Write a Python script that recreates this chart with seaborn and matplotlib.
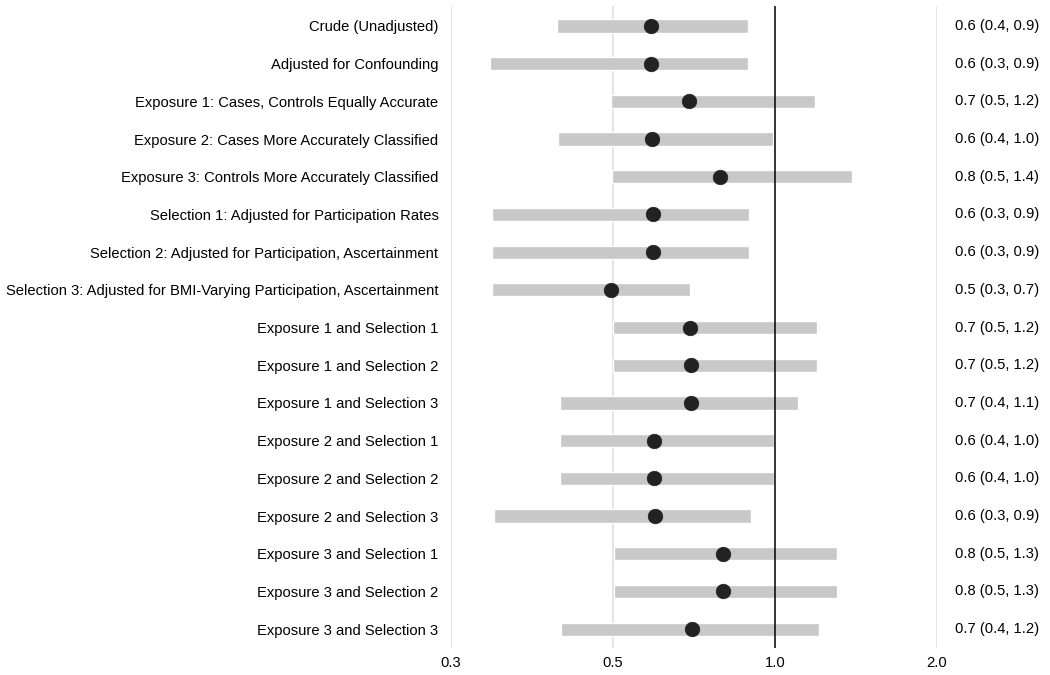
import numpy as np
import pandas as pd
import matplotlib
matplotlib.use("Agg")
import matplotlib.pyplot as plt
import matplotlib.transforms as mtransforms
import seaborn as sns

# ---- data (odds ratios with 95% intervals) ----
labels = [
    "Crude (Unadjusted)",
    "Adjusted for Confounding",
    "Exposure 1: Cases, Controls Equally Accurate",
    "Exposure 2: Cases More Accurately Classified",
    "Exposure 3: Controls More Accurately Classified",
    "Selection 1: Adjusted for Participation Rates",
    "Selection 2: Adjusted for Participation, Ascertainment",
    "Selection 3: Adjusted for BMI-Varying Participation, Ascertainment",
    "Exposure 1 and Selection 1",
    "Exposure 1 and Selection 2",
    "Exposure 1 and Selection 3",
    "Exposure 2 and Selection 1",
    "Exposure 2 and Selection 2",
    "Exposure 2 and Selection 3",
    "Exposure 3 and Selection 1",
    "Exposure 3 and Selection 2",
    "Exposure 3 and Selection 3",
]
est = [0.588, 0.588, 0.692, 0.591, 0.790, 0.593, 0.593, 0.496, 0.695,
       0.698, 0.698, 0.596, 0.596, 0.598, 0.800, 0.800, 0.700]
lower = [0.393, 0.295, 0.496, 0.395, 0.498, 0.298, 0.298, 0.298, 0.500,
         0.500, 0.398, 0.398, 0.398, 0.300, 0.502, 0.502, 0.400]
upper = [0.891, 0.891, 1.187, 0.991, 1.390, 0.895, 0.895, 0.695, 1.197,
         1.197, 1.103, 0.994, 0.996, 0.902, 1.304, 1.304, 1.207]
xticks = [0.25, 0.5, 1.0, 2.0]
xtick_labels = ["0.3", "0.5", "1.0", "2.0"]

df = pd.DataFrame({"label": labels, "est": est, "lower": lower, "upper": upper})
df["row"] = np.arange(len(df))
df["text"] = [f"{e:.1f} ({l:.1f}, {u:.1f})" for e, l, u in zip(est, lower, upper)]

# ---- plot ----
sns.set_style("white")
plt.rcParams["font.family"] = ["Liberation Sans", "DejaVu Sans"]
fs = 10.6

fig = plt.figure(figsize=(10.5, 6.75), dpi=100)
ax = fig.add_axes([451 / 1050, 1 - 648 / 675, (937 - 451) / 1050, (648 - 6) / 675])

ax.set_xscale("log", base=2)
ax.set_xlim(0.25, 2.0)
ax.set_ylim(len(df) - 0.5, -0.53)

# reference lines
for xv in [0.25, 0.5, 2.0]:
    ax.axvline(xv, color="#dcdcdc", lw=1.1, zorder=0)
ax.axvline(1.0, color="black", lw=1.1, zorder=2.5)

# interval bars
ax.barh(df["row"], df["upper"] - df["lower"], left=df["lower"],
        height=0.35, color="#c8c8c8", zorder=2)

# point estimates
sns.scatterplot(data=df, x="est", y="row", ax=ax, color="#222222",
                s=110, edgecolor="#222222", linewidth=0.5, zorder=3, legend=False)

ax.set_yticks(df["row"])
ax.set_yticklabels(df["label"], fontsize=fs, color="black")
ax.set_xticks(xticks)
ax.set_xticklabels(xtick_labels, fontsize=fs, color="black")
ax.minorticks_off()
ax.tick_params(axis="y", length=0, pad=9)
ax.tick_params(axis="x", length=0, pad=6)
ax.set_xlabel("")
ax.set_ylabel("")
for sp in ax.spines.values():
    sp.set_visible(False)

# estimate text on the right
trans = mtransforms.blended_transform_factory(ax.transAxes, ax.transData)
for r, t in zip(df["row"], df["text"]):
    ax.text(1.038, r, t, transform=trans, ha="left", va="center",
            fontsize=fs, color="black")

fig.savefig("out.png", dpi=100)
